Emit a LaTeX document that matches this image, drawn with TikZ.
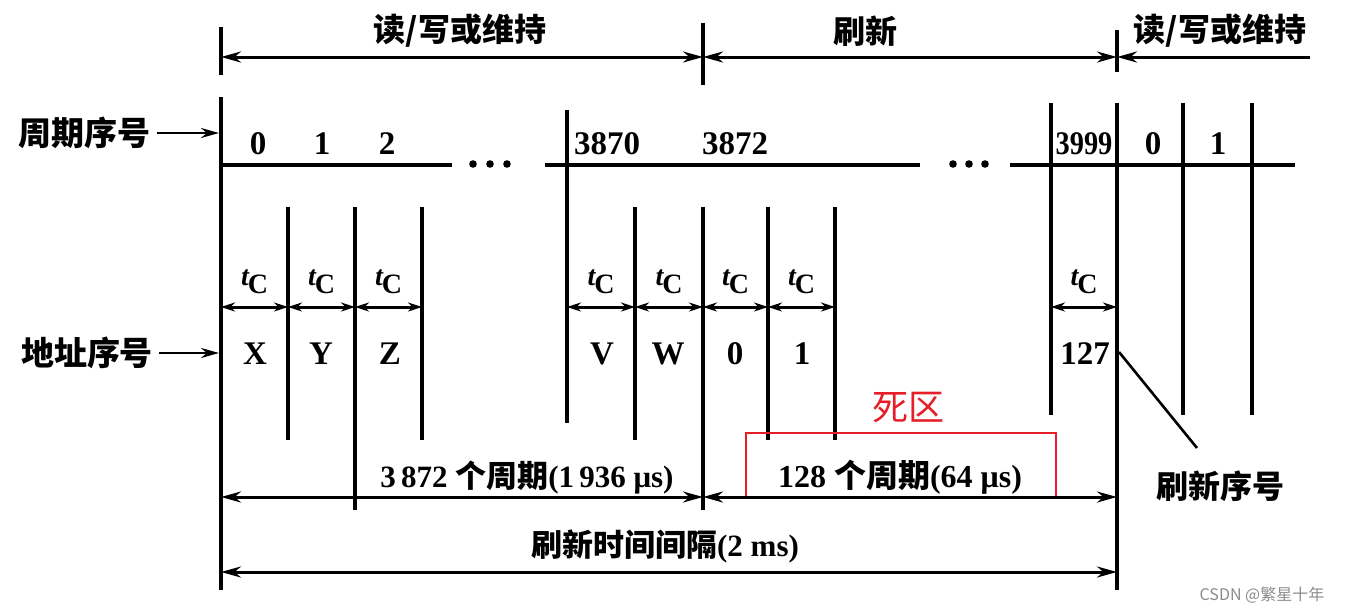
\documentclass[tikz,border=0pt]{standalone}
\usepackage{fontspec}
\setmainfont{Liberation Serif}
\newfontfamily\cjk{Noto Sans CJK SC}
\usetikzlibrary{arrows.meta}
\definecolor{mark}{RGB}{230,30,40}
\begin{document}
\begin{tikzpicture}[x=1pt,y=-1pt,
  ln/.style={line width=3.4pt},
  thin/.style={line width=2.6pt},
  big/.style={line width=3pt,{Stealth[length=20pt,width=11pt]}-{Stealth[length=20pt,width=11pt]}},
  bigl/.style={line width=3pt,{Stealth[length=20pt,width=11pt]}-},
  small/.style={line width=3pt,{Stealth[length=14pt,width=9pt]}-{Stealth[length=14pt,width=9pt]}},
  lab/.style={font=\cjk\bfseries\fontsize{32}{34}\selectfont, inner sep=0pt},
  num/.style={font=\bfseries\fontsize{33}{35}\selectfont, inner sep=0pt},
  mix/.style={font=\bfseries\fontsize{31}{33}\selectfont, inner sep=0pt},
  tc/.style={font=\bfseries\fontsize{28}{30}\selectfont, inner sep=0pt},
]
\useasboundingbox (0,0) rectangle (1345,613);
\fill[white] (0,0) rectangle (1345,613);

% ---- top ticks and dimension arrows
\draw[ln] (221,27) -- (221,75);
\draw[ln] (703,23) -- (703,85);
\draw[ln] (1117,30) -- (1117,72);
\coordinate (tA) at (221,57);
\coordinate (tB) at (703,57);
\coordinate (tC) at (1117,57);
\coordinate (tD) at (1310,57);
\draw[big] (tA) -- (tB);
\draw[big] (tB) -- (tC);
\draw[bigl] (tC) -- (tD);
\node[lab] (rw1) at (460,31) {读/写或维持};
\node[lab] (rf) at (865,31) {刷新};
\node[lab] (rw2) at (1220,31) {读/写或维持};

% ---- main vertical lines
\draw[ln] (221,97) -- (221,590);
\draw[ln] (567,110) -- (567,423);
\draw[ln] (1051,103) -- (1051,415);
\draw[ln] (1117,103) -- (1117,590);
\draw[ln] (1183,103) -- (1183,415);
\draw[ln] (1252,103) -- (1252,415);
\foreach \x/\b in {288/440,355/510,422/440,635/440,703/510,768/440,835/440}
  \draw[ln] (\x,207) -- (\x,\b);

% ---- cycle line
\draw[ln] (221,165) -- (452,165);
\draw[ln] (545,165) -- (920,165);
\draw[ln] (1010,165) -- (1295,165);
\foreach \x in {473,490,507,953,969,985}
  \fill (\x,164) circle (3.8pt);

% ---- left labels
\node[lab, font=\cjk\bfseries\fontsize{33}{35}\selectfont] (cyc) at (85,133) {周期序号};
\node[lab, font=\cjk\bfseries\fontsize{33}{35}\selectfont] (adr) at (87,353) {地址序号};
\coordinate (cycE) at (219,133);
\coordinate (adrE) at (219,353);
\draw[thin,-{Stealth[length=18pt,width=10pt]}] ([xshift=6pt]cyc.east) -- (cycE);
\draw[thin,-{Stealth[length=18pt,width=10pt]}] ([xshift=6pt]adr.east) -- (adrE);

% ---- cycle numbers
\foreach \x/\t in {258/0,322/1,387/2,607/3870,735/3872,1153/0,1218/1}
  \node[num] at (\x,144) {\t};
\node[num] at (1084,144) {\scalebox{0.86}[1]{3999}};

% ---- t_C row
\foreach \a/\b in {221/288,288/355,355/422,567/635,635/703,703/768,768/835,1051/1117}{
  \coordinate (p\a) at (\a,307);
  \coordinate (q\b) at (\b,307);
  \draw[small] (p\a) -- (q\b);
  \node[tc] at ({(\a+\b)/2},282) {\itshape t\kern-1pt\raisebox{-8pt}{\upshape C}};
}

% ---- address row
\foreach \x/\t in {255/X,321/Y,390/Z,602/V,668/W,735/0,802/1,1085/127}
  \node[num] at (\x,354) {\t};

% ---- refresh number leader
\coordinate (r127) at (1119,352);
\node[lab] (rfn) at (1220,486) {刷新序号};
\draw[thin] (r127) -- (1197,448);

% ---- dead zone
\node[font=\cjk\fontsize{36}{38}\selectfont, text=mark, inner sep=0pt] (dz) at (908,408) {死区};
\node[draw=mark, line width=1.5pt, minimum width=310pt, minimum height=64pt, inner sep=0pt] (dbox) at (901,465) {};

% ---- bottom dimensions
\coordinate (bA) at (221,497);
\coordinate (bB) at (703,497);
\coordinate (bC) at (1117,497);
\draw[big] (bA) -- (bB);
\draw[big] (bB) -- (bC);
\node[mix] (n1) at (527,478) {3\,872 {\cjk 个周期}(1\,936 μs)};
\node[mix, font=\bfseries\fontsize{32}{34}\selectfont] (n2) at (900,477) {128 {\cjk 个周期}(64 μs)};

\coordinate (cA) at (221,572);
\coordinate (cB) at (1117,572);
\draw[big] (cA) -- (cB);
\node[mix] (n3) at (665,546) {{\cjk 刷新时间间隔}(2 ms)};

% ---- watermark
\node[font=\cjk\fontsize{16}{18}\selectfont, text=black!45, inner sep=0pt] (wm) at (1262,595) {CSDN @繁星十年};
\end{tikzpicture}
\end{document}
